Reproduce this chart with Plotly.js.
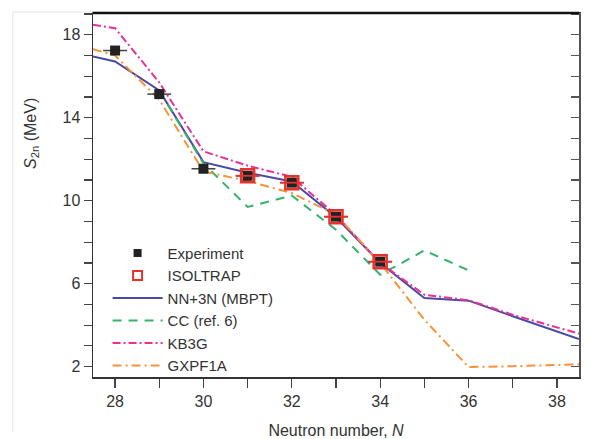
<!DOCTYPE html>
<html><head><meta charset="utf-8">
<script src="https://cdn.plot.ly/plotly-3.0.1.min.js"></script>
<style>html,body{margin:0;padding:0;background:#fff;}#chart{width:598px;height:439px;}</style>
</head><body><div id="chart"></div>
<script>
const expN = [28, 29, 30, 31, 32, 33, 34];
const expS2n = [17.24, 15.14, 11.54, 11.2, 10.87, 9.23, 7.06];
const isoN = [31, 32, 33, 34];
const isoS2n = [11.2, 10.87, 9.23, 7.06];
const errN = 0.27;

const nnN = [27.5, 28, 29, 30, 31, 32, 33, 34, 35, 36, 37, 38, 38.5];
const nnS2n = [16.95, 16.71, 15.32, 11.86, 11.35, 10.93, 9.2, 7.0, 5.31, 5.18, 4.43, 3.7, 3.33];

const ccN = [29, 30, 31, 32, 33, 34, 35, 36];
const ccS2n = [15.3, 11.8, 9.7, 10.25, 8.6, 6.43, 7.6, 6.64];

const kbN = [27.5, 28, 29, 30, 31, 32, 33, 34, 35, 36, 37, 38, 38.5];
const kbS2n = [18.48, 18.32, 15.7, 12.38, 11.69, 11.15, 9.3, 7.0, 5.47, 5.2, 4.5, 3.9, 3.59];

const gxN = [27.5, 28, 29, 30, 31, 32, 33, 34, 35, 36, 37, 38, 38.5];
const gxS2n = [17.31, 17.0, 14.87, 11.41, 10.95, 10.37, 9.33, 7.0, 4.26, 1.98, 2.02, 2.08, 2.11];

const font = 'Liberation Sans, Arial, sans-serif';
const txt = '#333';

const traces = [
  {x: nnN, y: nnS2n, mode: 'lines', name: 'NN+3N (MBPT)', line: {color: '#4a4aa6', width: 2}, legendrank: 3},
  {x: ccN, y: ccS2n, mode: 'lines', name: 'CC (ref. 6)', line: {color: '#33b36b', width: 2, dash: '9px,7px'}, legendrank: 4},
  {x: kbN, y: kbS2n, mode: 'lines', name: 'KB3G', line: {color: '#ea2f95', width: 2, dash: '8px,3px,2px,3px'}, legendrank: 5},
  {x: gxN, y: gxS2n, mode: 'lines', name: 'GXPF1A', line: {color: '#f7923a', width: 2, dash: '9px,4px,2px,4px'}, legendrank: 6},
  {x: expN, y: expS2n, mode: 'markers', name: 'Experiment', showlegend: false,
   marker: {symbol: 'square', size: 10, color: '#222'},
   error_x: {type: 'constant', value: errN, color: '#444', thickness: 1.5, width: 0}},
  {x: isoN, y: isoS2n, mode: 'markers', name: 'ISOLTRAP', showlegend: false,
   marker: {symbol: 'square-open', size: 13, color: '#e8312b', line: {width: 2.5, color: '#e8312b'}},
   error_x: {type: 'constant', value: errN, color: '#e8312b', thickness: 1.8, width: 0}},
  {x: [null], y: [null], mode: 'markers', name: 'Experiment', legendrank: 1,
   marker: {symbol: 'square', size: 8, color: '#222'}},
  {x: [null], y: [null], mode: 'markers', name: 'ISOLTRAP', legendrank: 2,
   marker: {symbol: 'square-open', size: 9, color: '#e8312b', line: {width: 2, color: '#e8312b'}}},
  {x: [30], y: [10], yaxis: 'y2', mode: 'markers', marker: {opacity: 0}, showlegend: false, hoverinfo: 'skip'}
];

const layout = {
  width: 598, height: 439,
  margin: {l: 93, r: 19, t: 13, b: 62},
  paper_bgcolor: '#fff', plot_bgcolor: '#fff',
  font: {family: font, size: 16, color: txt},
  showlegend: true,
  legend: {x: 0.03, y: 0.385, xanchor: 'left', yanchor: 'top', bgcolor: 'rgba(0,0,0,0)',
           font: {family: font, size: 15, color: txt}, tracegroupgap: 0, itemwidth: 50},
  xaxis: {range: [27.5, 38.5], tickmode: 'linear', tick0: 28, dtick: 2,
          ticks: 'outside', ticklen: 9, tickwidth: 1.2, tickcolor: '#444',
          minor: {dtick: 1, tick0: 28, ticks: 'outside', ticklen: 9, tickwidth: 1.2, tickcolor: '#444'},
          showline: true, linecolor: '#333', linewidth: 1.5, mirror: true,
          showgrid: false, zeroline: false,
          tickfont: {family: font, size: 16, color: txt},
          title: {text: 'Neutron number, <i>N</i>', font: {family: font, size: 16, color: txt}, standoff: 16}},
  yaxis: {range: [1.5, 19.05], tickmode: 'linear', tick0: 2, dtick: 4,
          ticks: 'outside', ticklen: 8, tickwidth: 1.2, tickcolor: '#444',
          minor: {dtick: 1, tick0: 2, ticks: 'outside', ticklen: 8, tickwidth: 1.2, tickcolor: '#444'},
          showline: true, linecolor: '#333', linewidth: 1.5, mirror: false,
          showgrid: false, zeroline: false,
          tickfont: {family: font, size: 16, color: txt}},
  yaxis2: {range: [1.5, 19.05], overlaying: 'y', side: 'right', tickmode: 'linear', tick0: 2, dtick: 1,
           ticks: 'inside', ticklen: 8, tickwidth: 1.2, tickcolor: '#555', showticklabels: false,
           showline: true, linecolor: '#555', linewidth: 1.5, showgrid: false, zeroline: false},
  annotations: [
    {text: '<i>S</i><sub>2n</sub> (MeV)', xref: 'paper', yref: 'paper', x: -0.128, y: 0.67,
     xanchor: 'center', yanchor: 'middle',
     textangle: -90, showarrow: false, font: {family: font, size: 16, color: txt}}
  ],
  shapes: [
    {type: 'line', xref: 'paper', yref: 'paper', x0: -0.165, x1: -0.165, y0: 1.003, y1: -0.15, line: {color: '#e6e6e6', width: 1}},
    {type: 'line', xref: 'paper', yref: 'paper', x0: -0.165, x1: 0.03, y0: 1.003, y1: 1.003, line: {color: '#e6e6e6', width: 1}},
    {type: 'line', xref: 'paper', yref: 'paper', x0: 0, x1: 1, y0: 1, y1: 1, line: {color: '#111', width: 2.5}}
  ]
};

Plotly.newPlot('chart', traces, layout, {displayModeBar: false, staticPlot: true});
</script></body></html>
